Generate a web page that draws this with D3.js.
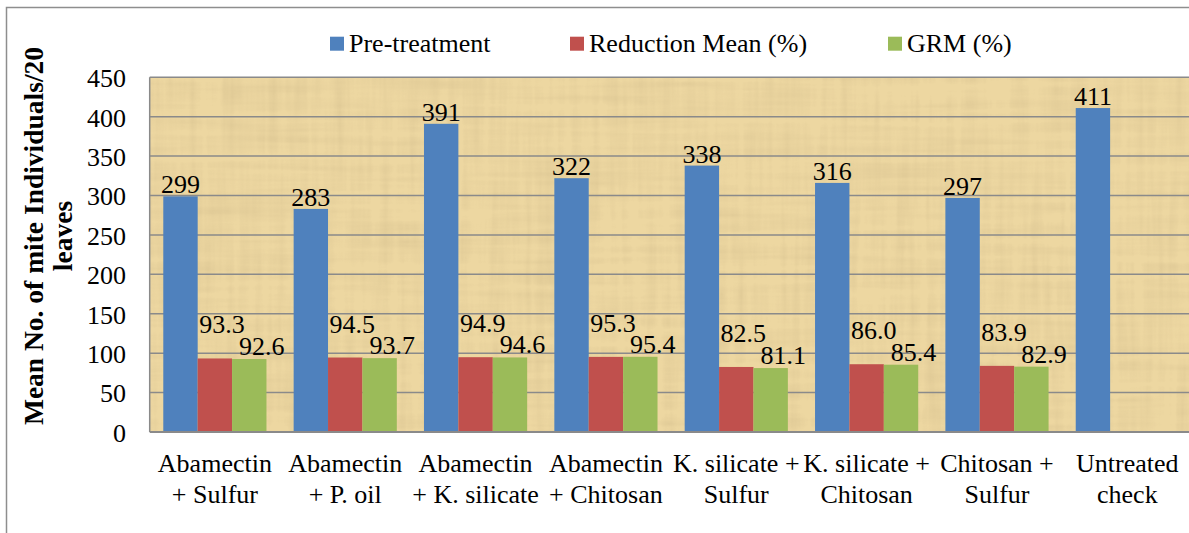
<!DOCTYPE html>
<html>
<head>
<meta charset="utf-8">
<script src="https://cdn.jsdelivr.net/npm/d3@7"></script>
<style>
  html, body { margin: 0; padding: 0; background: #fff; }
  svg { display: block; }
  text { font-family: "Liberation Serif", "Times New Roman", "DejaVu Serif", serif; fill: #000; }
</style>
</head>
<body>
<svg id="chart" width="1189" height="533"></svg>
<script>
// Treatments along the x axis, and the two lines each tick label is set on
const categories = [
  "Abamectin + Sulfur",
  "Abamectin + P. oil",
  "Abamectin + K. silicate",
  "Abamectin + Chitosan",
  "K. silicate + Sulfur",
  "K. silicate + Chitosan",
  "Chitosan + Sulfur",
  "Untreated check"
];
const categoryLines = [
  ["Abamectin", "+ Sulfur"],
  ["Abamectin", "+ P. oil"],
  ["Abamectin", "+ K. silicate"],
  ["Abamectin", "+ Chitosan"],
  ["K. silicate +", "Sulfur"],
  ["K. silicate +", "Chitosan"],
  ["Chitosan +", "Sulfur"],
  ["Untreated", "check"]
];

// Series
const seriesNames = ["Pre-treatment", "Reduction Mean (%)", "GRM (%)"];
const preTreatment = [299, 283, 391, 322, 338, 316, 297, 411];
const reductionMean = [93.3, 94.5, 94.9, 95.3, 82.5, 86.0, 83.9, null];
const grm = [92.6, 93.7, 94.6, 95.4, 81.1, 85.4, 82.9, null];

// Y axis
const yTicks = [0, 50, 100, 150, 200, 250, 300, 350, 400, 450];
const yTitleLines = ["Mean No. of mite Individuals/20", "leaves"];

const colors = ["#4f81bd", "#c0504d", "#9bbb59"];
const series = [preTreatment, reductionMean, grm];
const serif = "'Liberation Serif', 'Times New Roman', 'DejaVu Serif', serif";

const svg = d3.select("#chart").attr("font-family", serif);
const plot = { left: 149.7, top: 77.3, right: 1192.5, bottom: 432 };

// Papyrus-like fibre texture for the plot background
const defs = svg.append("defs");
const f = defs.append("filter").attr("id", "papyrus")
  .attr("x", 0).attr("y", 0).attr("width", "100%").attr("height", "100%")
  .attr("filterUnits", "objectBoundingBox");
f.append("feTurbulence").attr("type", "fractalNoise")
  .attr("baseFrequency", "0.006 0.11").attr("numOctaves", 3).attr("seed", 4).attr("result", "h");
f.append("feTurbulence").attr("type", "fractalNoise")
  .attr("baseFrequency", "0.11 0.006").attr("numOctaves", 3).attr("seed", 11).attr("result", "v");
f.append("feComposite").attr("in", "h").attr("in2", "v")
  .attr("operator", "arithmetic").attr("k2", 0.5).attr("k3", 0.5).attr("result", "mix");
f.append("feColorMatrix").attr("in", "mix").attr("type", "matrix")
  .attr("values", "0 0 0 0 0.64  0 0 0 0 0.5  0 0 0 0 0.26  2.6 0 0 0 -1.05");

const clipId = "plotClip";
defs.append("clipPath").attr("id", clipId).append("rect")
  .attr("x", plot.left).attr("y", plot.top)
  .attr("width", plot.right - plot.left).attr("height", plot.bottom - plot.top);

// Outer chart frame
svg.append("rect")
  .attr("x", 6.5).attr("y", 7.5).attr("width", 1200).attr("height", 540)
  .attr("fill", "none").attr("stroke", "#8e8e8e").attr("stroke-width", 1.5);

// Plot background
svg.append("rect")
  .attr("x", plot.left).attr("y", plot.top)
  .attr("width", plot.right - plot.left).attr("height", plot.bottom - plot.top)
  .attr("fill", "#edd7a1");
svg.append("rect")
  .attr("x", plot.left).attr("y", plot.top)
  .attr("width", plot.right - plot.left).attr("height", plot.bottom - plot.top)
  .attr("fill", "#fff").attr("filter", "url(#papyrus)").attr("opacity", 0.42);

// Scales
const x0 = d3.scaleBand().domain(categories).range([plot.left, plot.right]).padding(0);
const x1 = d3.scaleBand().domain(seriesNames).range([0, x0.bandwidth()])
  .paddingInner(0).paddingOuter(0.395);
const y = d3.scaleLinear().domain([0, 450]).range([plot.bottom, plot.top]);

// Gridlines
svg.append("g").selectAll("line").data(yTicks.filter(t => t > 0)).join("line")
  .attr("x1", plot.left).attr("x2", plot.right)
  .attr("y1", d => y(d)).attr("y2", d => y(d))
  .attr("stroke", "#8a8a8a").attr("stroke-width", 1.5);

// Bars
const barsG = svg.append("g").attr("clip-path", `url(#${clipId})`);
seriesNames.forEach((name, si) => {
  barsG.append("g").selectAll("rect")
    .data(categories.map((c, i) => ({ c, v: series[si][i] })).filter(d => d.v != null))
    .join("rect")
    .attr("x", d => x0(d.c) + x1(name))
    .attr("width", x1.bandwidth())
    .attr("y", d => y(d.v))
    .attr("height", d => y(0) - y(d.v))
    .attr("fill", colors[si]);
});

// Plot border (left edge and bottom axis line)
svg.append("line").attr("x1", plot.left).attr("x2", plot.left)
  .attr("y1", plot.top).attr("y2", plot.bottom)
  .attr("stroke", "#8a8a8a").attr("stroke-width", 1.5);
svg.append("line").attr("x1", plot.left).attr("x2", plot.right)
  .attr("y1", plot.bottom).attr("y2", plot.bottom)
  .attr("stroke", "#8a8a8a").attr("stroke-width", 2);

// Y axis labels
const yAxis = d3.axisLeft(y).tickValues(yTicks).tickSize(0).tickPadding(0);
const yAxisG = svg.append("g").attr("transform", `translate(126,0)`).call(yAxis)
  .attr("font-family", serif).attr("font-size", 26);
yAxisG.select(".domain").remove();
yAxisG.selectAll("text").attr("fill", "#000").attr("dy", "0.36em");

// X axis category labels
const xAxis = d3.axisBottom(x0).tickSize(0).tickFormat(() => "");
const xAxisG = svg.append("g").attr("transform", `translate(0,${plot.bottom})`).call(xAxis)
  .attr("font-family", serif).attr("font-size", 26);
xAxisG.select(".domain").remove();
xAxisG.selectAll(".tick").each(function (d, i) {
  const t = d3.select(this).append("text")
    .attr("text-anchor", "middle").attr("fill", "#000");
  categoryLines[i].forEach((line, li) => {
    t.append("tspan").attr("x", 0).attr("y", 40 + li * 31).text(line);
  });
});

// Data labels
const labelG = svg.append("g").attr("font-size", 26);
categories.forEach((c, i) => {
  const vPre = preTreatment[i];
  labelG.append("text")
    .attr("x", x0(c) + x1(seriesNames[0]) + x1.bandwidth() / 2)
    .attr("y", y(vPre) - 3)
    .attr("text-anchor", "middle")
    .text(vPre);
  if (reductionMean[i] != null) {
    labelG.append("text")
      .attr("x", x0(c) + x1(seriesNames[1]) + 1.5)
      .attr("y", y(reductionMean[i]) - 25)
      .text(reductionMean[i].toFixed(1));
  }
  if (grm[i] != null) {
    labelG.append("text")
      .attr("x", x0(c) + x1(seriesNames[2]) + 7)
      .attr("y", y(grm[i]) - 4)
      .text(grm[i].toFixed(1));
  }
});

// Legend
const legendX = [330, 570, 888];
const legend = svg.append("g");
seriesNames.forEach((name, i) => {
  legend.append("rect").attr("x", legendX[i]).attr("y", 36.7)
    .attr("width", 14).attr("height", 14).attr("fill", colors[i]);
  legend.append("text").attr("x", legendX[i] + 19).attr("y", 52)
    .attr("font-size", 26).text(name);
});

// Y axis title
const title = svg.append("text")
  .attr("transform", "translate(0,236) rotate(-90)")
  .attr("text-anchor", "middle")
  .attr("font-size", 27.5).attr("font-weight", "bold");
yTitleLines.forEach((line, li) => {
  title.append("tspan").attr("x", 0).attr("y", 43 + li * 29).text(line);
});
</script>
</body>
</html>
